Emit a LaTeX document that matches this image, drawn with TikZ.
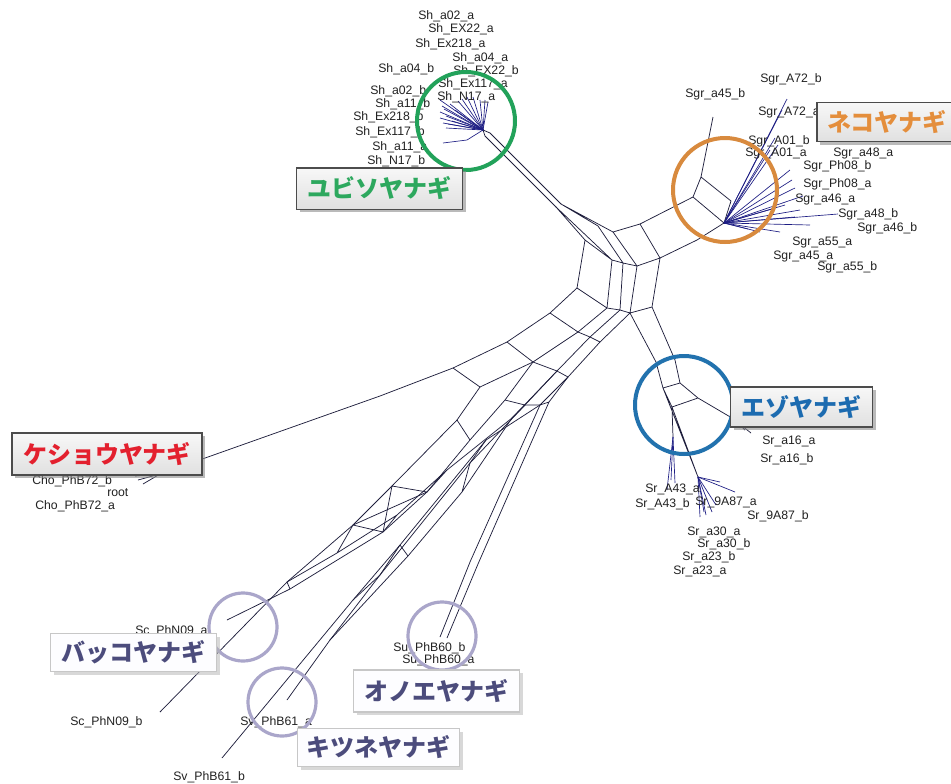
\documentclass[tikz,border=0pt]{standalone}
\usepackage{fontspec}
\setmainfont{Liberation Sans}
\newfontfamily\jp{Noto Sans CJK JP}
\usetikzlibrary{shadows}
\definecolor{netc}{HTML}{1E1E3C}
\definecolor{leafc}{HTML}{1E1E84}
\definecolor{labc}{HTML}{222222}
\definecolor{cgreen}{HTML}{22A25A}
\definecolor{corange}{HTML}{D88A3E}
\definecolor{cblue}{HTML}{2272AE}
\definecolor{clav}{HTML}{AAA6CA}
\definecolor{tgreen}{HTML}{2DA85E}
\definecolor{tred}{HTML}{E3202E}
\definecolor{torange}{HTML}{E48E3C}
\definecolor{tblue}{HTML}{1C6BB0}
\definecolor{tslate}{HTML}{4C4C7C}
\begin{document}
\begin{tikzpicture}[x=0.75pt,y=-0.75pt,
  net/.style={draw=netc,line width=0.55pt},
  leaf/.style={draw=leafc,line width=0.5pt},
  lab/.style={anchor=west,inner sep=0pt,text=labc,font=\fontsize{9.2}{10}\selectfont},
  ring/.style={line width=3pt},
  tagtop/.style={draw=black!70,line width=0.8pt,top color=black!3,bottom color=black!12,inner sep=0pt,
    drop shadow={shadow xshift=2.5pt,shadow yshift=-2.5pt,fill=black!45,opacity=0.6},
    font=\jp\bfseries\fontsize{18}{20}\selectfont},
  tagbot/.style={draw=black!22,line width=0.8pt,fill=white!90!blue!6,inner sep=0pt,
    drop shadow={shadow xshift=2.5pt,shadow yshift=-2.5pt,fill=black!30,opacity=0.5},
    font=\jp\bfseries\fontsize{18}{20}\selectfont,text=tslate}]
\useasboundingbox (0,0) rectangle (951,783);
\fill[white] (0,0) rectangle (951,783);

% ---------- vertices of the network ----------
% stem of the Sh group
\coordinate (H) at (483,130);
\coordinate (Hs1) at (485,136);
\coordinate (Hs2) at (490,133);
\coordinate (Hb) at (467,140);
\coordinate (Hc) at (443,143);
\coordinate (E1) at (556,207);
\coordinate (E2) at (561,204);
% central block
\coordinate (ntl) at (585,240);
\coordinate (nl) at (577,288);
\coordinate (nt1) at (598,226);
\coordinate (nt2) at (613,232);
\coordinate (nt3) at (640,224);
\coordinate (p1) at (612,260);
\coordinate (p2) at (623,263);
\coordinate (p3) at (637,266);
\coordinate (p4) at (660,258);
\coordinate (q1) at (607,308);
\coordinate (q2) at (620,310);
\coordinate (q3) at (630,313);
\coordinate (q4) at (652,307);
% Sgr group
\coordinate (g1) at (693,197);
\coordinate (g2) at (701,177);
\coordinate (g3) at (731,201);
\coordinate (gl) at (697,240);
\coordinate (G) at (724,223);
\coordinate (ga) at (713,117);
% Sr group
\coordinate (s1) at (656,362);
\coordinate (s2) at (675,360);
\coordinate (s3) at (663,388);
\coordinate (s4) at (680,383);
\coordinate (s5) at (672,407);
\coordinate (s6) at (698,398);
\coordinate (s7) at (732,418);
\coordinate (s8) at (673,437);
\coordinate (R) at (698,477);
% long branch to Cho
\coordinate (A1) at (550,313);
\coordinate (A2) at (507,342);
\coordinate (A3) at (453,368);
\coordinate (A4) at (380,396);
\coordinate (ChoE) at (160,474);
\coordinate (B1) at (578,332);
\coordinate (B2) at (533,362);
\coordinate (B3) at (480,387);
% chains feeding the lower fan
\coordinate (c1) at (590,337);
\coordinate (c2) at (557,371);
\coordinate (c3) at (525,405);
\coordinate (d1) at (600,342);
\coordinate (d2) at (568,377);
\coordinate (d3) at (540,405);
\coordinate (su0) at (549,402);
% Sc strands
\coordinate (f1) at (457,420);
\coordinate (f9) at (392,486);
\coordinate (f2) at (353,525);
\coordinate (f3) at (287,582);
\coordinate (scb) at (160,712);
\coordinate (f4) at (505,400);
\coordinate (f5) at (470,440);
\coordinate (f6) at (427,492);
\coordinate (f7) at (383,532);
\coordinate (f8) at (290,589);
\coordinate (sca) at (227,620);
\coordinate (x1) at (512,418);
\coordinate (x2) at (447,470);
\coordinate (x3) at (397,515);
\coordinate (x4) at (337,553);
% Sv strands
\coordinate (v1) at (470,463);
\coordinate (v2) at (380,575);
\coordinate (v3) at (330,640);
\coordinate (sva) at (287,700);
\coordinate (w1) at (486,440);
\coordinate (w2) at (400,545);
\coordinate (w3) at (353,600);
\coordinate (svb) at (222,758);
\coordinate (y1) at (462,492);
\coordinate (y2) at (408,556);
% Su strands
\coordinate (u1) at (470,562);
\coordinate (u2) at (478,564);
\coordinate (sub) at (440,637);
\coordinate (sua) at (447,638);

% ---------- edges ----------
\draw[net] (H)--(Hs1)--(E1);
\draw[net] (H)--(Hs2)--(E2);
\draw[net] (E1)--(ntl) (E1)--(p1) (E2)--(nt1)--(p2) (E2)--(nt2)--(p3)
  (nt2)--(nt3)--(p4) (ntl)--(p1)--(p2)--(p3)--(p4)
  (ntl)--(nl) (p1)--(q1) (p2)--(q2) (p3)--(q3) (p4)--(q4)
  (nl)--(q1)--(q2)--(q3)--(q4);
% to Sgr
\draw[net] (nt3)--(g1)--(g2)--(g3)--(G) (g1)--(G) (p4)--(gl)--(G) (g2)--(ga);
% to Sr
\draw[net] (q3)--(s1)--(s3) (q4)--(s2)--(s4) (s3)--(s4) (s3)--(s5) (s4)--(s6)
  (s5)--(s6) (s6)--(s7) (s5)--(s8) (s3)--(R) (s5)--(R);
% to Cho
\draw[net] (nl)--(A1)--(A2)--(A3)--(A4)--(ChoE) (q1)--(B1)--(B2)--(B3)
  (A1)--(B1) (A2)--(B2) (A3)--(B3);
\coordinate (cho1) at (135,476);
\coordinate (cho2) at (138,480);
\coordinate (cho3) at (143,484);
\draw[net] (ChoE)--(cho1) (ChoE)--(cho2) (ChoE)--(cho3);
% lower fan
\draw[net] (q2)--(c1)--(c2)--(c3) (q3)--(d1)--(d2)--(d3) (c1)--(d1) (c2)--(d2)
  (B1)--(c1) (B2)--(c2);
\draw[net] (B3)--(f1)--(f9)--(f2)--(f3)--(scb);
\draw[net] (B2)--(f4)--(f5)--(f6)--(f7)--(f8)--(sca);
\draw[net] (f1)--(f5) (f9)--(f6) (f2)--(f7) (f6)--(f2) (f9)--(f7) (f3)--(f8);
\draw[net] (c2)--(x1)--(x2)--(x3)--(x4)--(f3) (x2)--(f6) (x3)--(f7) (x4)--(f2);
\draw[net] (x1)--(y1)--(y2)--(v3) (y1)--(v1) (y2)--(w2);
\draw[net] (c3)--(v1)--(v2)--(v3)--(sva);
\draw[net] (d3)--(w1)--(w2)--(w3)--(svb);
\draw[net] (f4)--(c3) (v1)--(w1) (v2)--(w3) (w2)--(v2) (c3)--(d3) (x1)--(c3);
\draw[net] (d3)--(u1)--(sub) (d2)--(su0)--(u2)--(sua) (d3)--(su0);

% leaf fans
\foreach \x/\y [count=\i] in {440/100,442/106,440/112,440/118,443/123,446/128,
  450/104,455/110,458/101,467/97,473/97,480/100,485/100,488/102,446/116,452/121,
  444/109,448/124,462/99}{
  \coordinate (sh\i) at (\x,\y); \draw[leaf] (H)--(sh\i);}
\draw[leaf] (H)--(Hb)--(Hc);
\foreach \x/\y [count=\i] in {787/99,782/110,775/138,770/150,790/170,795/188,
  803/196,838/214,795/217,810/225,780/232,760/232,748/229,785/205,772/209,800/210,
  778/145,792/180}{
  \coordinate (sg\i) at (\x,\y); \draw[leaf] (G)--(sg\i);}
\foreach \x/\y [count=\i] in {740/428,745/430,751/433,744/425}{
  \coordinate (sa\i) at (\x,\y); \draw[net] (s7)--(sa\i);}
\foreach \x/\y [count=\i] in {667/490,675/483,671/480}{
  \coordinate (sb\i) at (\x,\y); \draw[leaf] (s8)--(sb\i);}
\foreach \x/\y [count=\i] in {700/517,706/515,712/512,720/482,735/492,716/505,704/512}{
  \coordinate (sc\i) at (\x,\y); \draw[leaf] (R)--(sc\i);}

% ---------- taxon labels ----------
\foreach \t/\x/\y [count=\i] in {
  Sh\_a02\_a/418/16, Sh\_EX22\_a/428/29, Sh\_Ex218\_a/415/44, Sh\_a04\_a/452/58,
  Sh\_a04\_b/378/69, Sh\_EX22\_b/453/71, Sh\_Ex117\_a/438/84, Sh\_a02\_b/370/91,
  Sh\_N17\_a/437/97, Sh\_a11\_b/375/104, Sh\_Ex218\_b/353/117, Sh\_Ex117\_b/355/132,
  Sh\_a11\_a/372/147, Sh\_N17\_b/367/161,
  Sgr\_A72\_b/760/79, Sgr\_a45\_b/685/94, Sgr\_A72\_a/758/112, Sgr\_A01\_b/748/141,
  Sgr\_A01\_a/745/153, Sgr\_a48\_a/833/153, Sgr\_Ph08\_b/803/166, Sgr\_Ph08\_a/803/184,
  Sgr\_a46\_a/795/199, Sgr\_a48\_b/838/214, Sgr\_a46\_b/857/228, Sgr\_a55\_a/792/242,
  Sgr\_a45\_a/773/256, Sgr\_a55\_b/817/267,
  Sr\_a16\_a/762/441, Sr\_a16\_b/760/459, Sr\_A43\_a/645/489, Sr\_A43\_b/635/504,
  Sr\_9A87\_a/695/502, Sr\_9A87\_b/747/516, Sr\_a30\_a/687/532, Sr\_a30\_b/697/544,
  Sr\_a23\_b/682/557, Sr\_a23\_a/673/571,
  Cho\_PhB72\_b/32/481, root/107/493, Cho\_PhB72\_a/35/506,
  Sc\_PhN09\_a/135/631, Sc\_PhN09\_b/70/722,
  Sv\_PhB61\_a/240/722, Sv\_PhB61\_b/173/777,
  Su\_PhB60\_b/393/648, Su\_PhB60\_a/402/660}{
  \node[lab] (tx\i) at (\x,\y) {\t};}

% ---------- group rings ----------
\draw[ring,cgreen] (466,121) circle[radius=49];
\draw[ring,corange] (725,190) circle[radius=52];
\draw[ring,cblue] (684,405) circle[radius=49];
\draw[ring,clav,line width=2.4pt] (243,627) circle[radius=34];
\draw[ring,clav,line width=2.4pt] (282,702) circle[radius=34];
\draw[ring,clav,line width=2.4pt] (442,636) circle[radius=34];

% ---------- species tags ----------
\node[tagtop,text=tgreen,minimum width=125pt,minimum height=30.8pt] (yubiso) at (379.5,188.5) {ユビソヤナギ};
\node[tagtop,text=torange,minimum width=105pt,minimum height=29pt] (neko) at (887,122) {ネコヤナギ};
\node[tagtop,text=tblue,minimum width=107pt,minimum height=30pt] (ezo) at (801.5,407) {エゾヤナギ};
\node[tagtop,text=tred,minimum width=142.5pt,minimum height=31.5pt] (kesho) at (107,454) {ケショウヤナギ};
\node[tagbot,minimum width=125pt,minimum height=29pt] (bakko) at (133.5,652.5) {バッコヤナギ};
\node[tagbot,minimum width=125pt,minimum height=31.5pt] (onoe) at (436.5,691) {オノエヤナギ};
\node[tagbot,minimum width=122pt,minimum height=29pt] (kitsune) at (378.5,747.5) {キツネヤナギ};
\end{tikzpicture}
\end{document}
